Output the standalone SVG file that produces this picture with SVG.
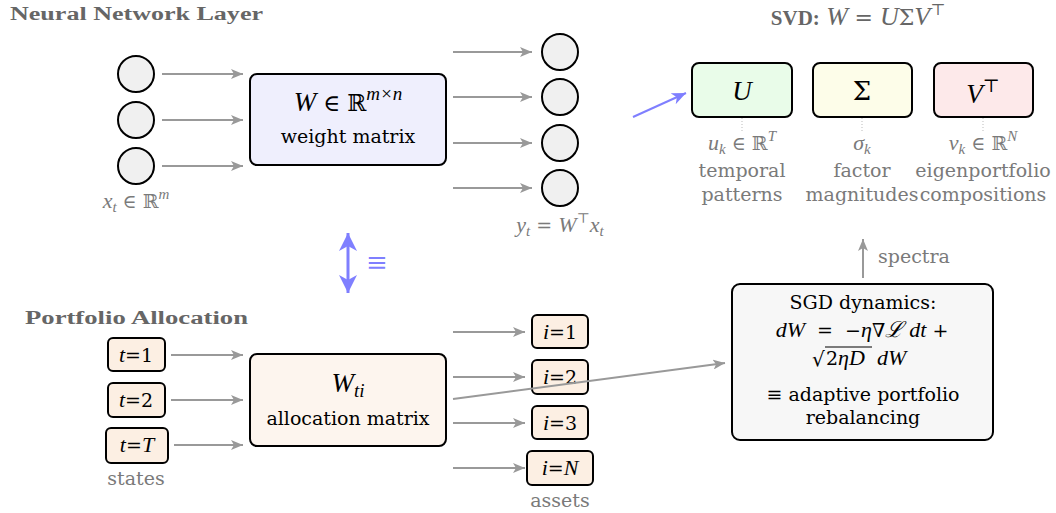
<svg xmlns="http://www.w3.org/2000/svg" width="1056" height="513" viewBox="0 0 1056 513">
<defs>
<style>
text{font-family:"DejaVu Serif","Liberation Serif",serif;}
.t{font-size:19px;fill:#000;}
.m{font-family:"Liberation Serif","DejaVu Serif",serif;font-size:27px;font-style:italic;fill:#000;}
.g{font-size:19px;fill:#7a7a7a;}
.ttl{font-family:"Liberation Serif","DejaVu Serif",serif;font-size:18px;font-weight:bold;fill:#666;}
.i{font-family:"Liberation Serif","DejaVu Serif",serif;font-style:italic;font-size:22px;}
.n{font-family:"DejaVu Serif",serif;font-style:normal;}
.c{text-anchor:middle;}
.box{stroke:#000;stroke-width:2;}
.neuron{fill:#f0f0f0;stroke:#000;stroke-width:2;}
.arr{stroke:#999;stroke-width:2;fill:none;marker-end:url(#ah);}
.dot{stroke:#bbb;stroke-width:1;stroke-dasharray:1 2;}
</style>
<marker id="ah" markerUnits="userSpaceOnUse" markerWidth="12" markerHeight="10" viewBox="0 0 12 10" refX="12" refY="5" orient="auto"><path d="M0,0 L12,5 L0,10 L3,5z" fill="#999"/></marker>
<marker id="bh" markerUnits="userSpaceOnUse" markerWidth="14" markerHeight="12" viewBox="0 0 14 12" refX="14" refY="6" orient="auto"><path d="M0,0 L14,6 L0,12 L4,6z" fill="#7f7fff"/></marker>
<marker id="dh" markerUnits="userSpaceOnUse" markerWidth="18" markerHeight="18" viewBox="0 0 18 18" refX="18" refY="9" orient="auto-start-reverse"><path d="M0,0 L18,9 L0,18 L5,9z" fill="#7f7fff"/></marker>
</defs>

<text class="ttl" x="10" y="20" textLength="253" lengthAdjust="spacingAndGlyphs">Neural Network Layer</text>
<text class="ttl" x="25" y="324" textLength="223" lengthAdjust="spacingAndGlyphs">Portfolio Allocation</text>
<text class="ttl c" x="858" y="25" style="font-size:21px"><tspan>SVD:</tspan><tspan class="i" style="font-weight:normal;font-size:26px"> W </tspan><tspan class="n" style="font-weight:normal;font-size:22px">= </tspan><tspan class="i" style="font-weight:normal;font-size:26px">U</tspan><tspan class="n" style="font-weight:normal;font-size:22px">Σ</tspan><tspan class="i" style="font-weight:normal;font-size:26px">V</tspan><tspan class="n" style="font-weight:normal;font-size:16px" dy="-10">⊤</tspan></text>

<g id="inputs">
<circle class="neuron" cx="136" cy="74" r="18"/>
<circle class="neuron" cx="136" cy="120" r="18"/>
<circle class="neuron" cx="136" cy="166" r="18"/>
<text class="g c" x="136" y="208"><tspan class="i">x</tspan><tspan class="i" style="font-size:15px" dy="4">t</tspan><tspan dy="-4"> ∈ ℝ</tspan><tspan class="i" style="font-size:15px" dy="-9">m</tspan></text>
</g>

<g id="weight">
<rect class="box" x="250" y="74" width="196" height="91" rx="7" fill="#efeffd"/>
<text class="m c" x="348" y="111">W <tspan class="n" style="font-size:23px">∈ ℝ</tspan><tspan style="font-size:19px" dy="-11">m×n</tspan></text>
<text class="t c" x="348" y="143">weight matrix</text>
</g>

<g id="outputs">
<circle class="neuron" cx="560" cy="52" r="18"/>
<circle class="neuron" cx="560" cy="97" r="18"/>
<circle class="neuron" cx="560" cy="143" r="18"/>
<circle class="neuron" cx="560" cy="188" r="18"/>
<text class="g c" x="560" y="232"><tspan class="i">y</tspan><tspan class="i" style="font-size:15px" dy="4">t</tspan><tspan dy="-4"> = </tspan><tspan class="i">W</tspan><tspan style="font-size:14px" dy="-9">⊤</tspan><tspan class="i" dy="9">x</tspan><tspan class="i" style="font-size:15px" dy="4">t</tspan></text>
</g>

<g id="svdU">
<rect class="box" x="692" y="63" width="100" height="54" rx="7" fill="#e9fce9"/>
<text class="m c" x="742" y="100">U</text>
<line class="dot" x1="742" y1="118" x2="742" y2="131"/>
<text class="g c" x="742" y="150"><tspan class="i">u</tspan><tspan class="i" style="font-size:15px" dy="4">k</tspan><tspan dy="-4">  ∈  ℝ</tspan><tspan class="i" style="font-size:15px" dy="-9">T</tspan></text>
<text class="g c" x="742" y="177">temporal</text>
<text class="g c" x="742" y="201">patterns</text>
</g>

<g id="svdS">
<rect class="box" x="813" y="63" width="99" height="54" rx="7" fill="#fdfde9"/>
<text class="t c" x="862" y="100" style="font-size:26px">Σ</text>
<line class="dot" x1="862" y1="118" x2="862" y2="131"/>
<text class="g c" x="862" y="150"><tspan class="i">σ</tspan><tspan class="i" style="font-size:15px" dy="4">k</tspan></text>
<text class="g c" x="862" y="177">factor</text>
<text class="g c" x="862" y="201">magnitudes</text>
</g>

<g id="svdV">
<rect class="box" x="934" y="63" width="99" height="54" rx="7" fill="#fde9ea"/>
<text class="m c" x="983" y="103">V<tspan class="n" style="font-size:18px" dy="-11">⊤</tspan></text>
<line class="dot" x1="983" y1="118" x2="983" y2="131"/>
<text class="g c" x="983" y="150"><tspan class="i">v</tspan><tspan class="i" style="font-size:15px" dy="4">k</tspan><tspan dy="-4">  ∈  ℝ</tspan><tspan class="i" style="font-size:15px" dy="-9">N</tspan></text>
<text class="g c" x="983" y="177">eigenportfolio</text>
<text class="g c" x="983" y="201">compositions</text>
</g>

<g id="equiv">
<text x="377" y="271" style="font-size:26px" fill="#7f7fff" class="c">≡</text>
</g>

<g id="states">
<rect class="box" x="108" y="338" width="57" height="33" rx="5" fill="#fcefe3"/>
<text class="t c" x="136" y="362"><tspan class="i">t</tspan>=1</text>
<rect class="box" x="108" y="383" width="57" height="34" rx="5" fill="#fcefe3"/>
<text class="t c" x="136" y="407"><tspan class="i">t</tspan>=2</text>
<rect class="box" x="106" y="428" width="62" height="35" rx="5" fill="#fcefe3"/>
<text class="t c" x="137" y="452"><tspan class="i">t</tspan>=<tspan class="i">T</tspan></text>
<text class="g c" x="136" y="485">states</text>
</g>

<g id="allocation">
<rect class="box" x="250" y="354" width="196" height="92" rx="7" fill="#fdf5ee"/>
<text class="m c" x="348" y="392">W<tspan style="font-size:19px" dy="5">ti</tspan></text>
<text class="t c" x="348" y="425">allocation matrix</text>
</g>

<g id="assets">
<rect class="box" x="532" y="315" width="56" height="33" rx="5" fill="#fcefe3"/>
<text class="t c" x="560" y="339"><tspan class="i">i</tspan>=1</text>
<rect class="box" x="532" y="360" width="56" height="34" rx="5" fill="#fcefe3"/>
<text class="t c" x="560" y="384"><tspan class="i">i</tspan>=2</text>
<rect class="box" x="532" y="406" width="56" height="33" rx="5" fill="#fcefe3"/>
<text class="t c" x="560" y="430"><tspan class="i">i</tspan>=3</text>
<rect class="box" x="527" y="451" width="66" height="34" rx="5" fill="#fcefe3"/>
<text class="t c" x="560" y="475"><tspan class="i">i</tspan>=<tspan class="i">N</tspan></text>
<text class="g c" x="560" y="507">assets</text>
</g>

<g id="sgd">
<rect class="box" x="732" y="284" width="261" height="156" rx="8" fill="#f7f7f7"/>
<text class="t c" x="863" y="309">SGD dynamics:</text>
<text class="t c" x="862" y="337" xml:space="preserve"><tspan class="i">dW</tspan>  =  −<tspan class="i">η</tspan>∇<tspan class="i">ℒ</tspan> <tspan class="i">dt</tspan> +</text>
<text class="t" x="812" y="366" style="font-size:20px">√</text>
<line x1="825" y1="347" x2="872" y2="347" stroke="#000" stroke-width="1.2"/>
<text class="t" x="826" y="365">2<tspan class="i">ηD</tspan></text>
<text class="t i" x="877" y="365">dW</text>
<text class="t c" x="863" y="401">≡ adaptive portfolio</text>
<text class="t c" x="863" y="424">rebalancing</text>
<text class="g" x="878" y="263">spectra</text>
</g>

<g id="connectors">
<path class="arr" d="M162,74 H243"/>
<path class="arr" d="M162,120 H243"/>
<path class="arr" d="M162,166 H243"/>
<path class="arr" d="M453,52 H532"/>
<path class="arr" d="M453,97 H532"/>
<path class="arr" d="M453,143 H532"/>
<path class="arr" d="M453,188 H532"/>
<path class="arr" d="M171,355 H243"/>
<path class="arr" d="M171,400 H243"/>
<path class="arr" d="M174,445 H243"/>
<path class="arr" d="M453,332 H525"/>
<path class="arr" d="M453,377 H525"/>
<path class="arr" d="M453,423 H525"/>
<path class="arr" d="M453,468 H525"/>
<path class="arr" d="M453,399 L725,363"/>
<path class="arr" d="M863,278 V239"/>
<path d="M633,117 L686,93" stroke="#7f7fff" stroke-width="2" fill="none" marker-end="url(#bh)"/>
<path d="M348,233 V293" stroke="#7f7fff" stroke-width="3" fill="none" marker-start="url(#dh)" marker-end="url(#dh)"/>
</g>
</svg>
